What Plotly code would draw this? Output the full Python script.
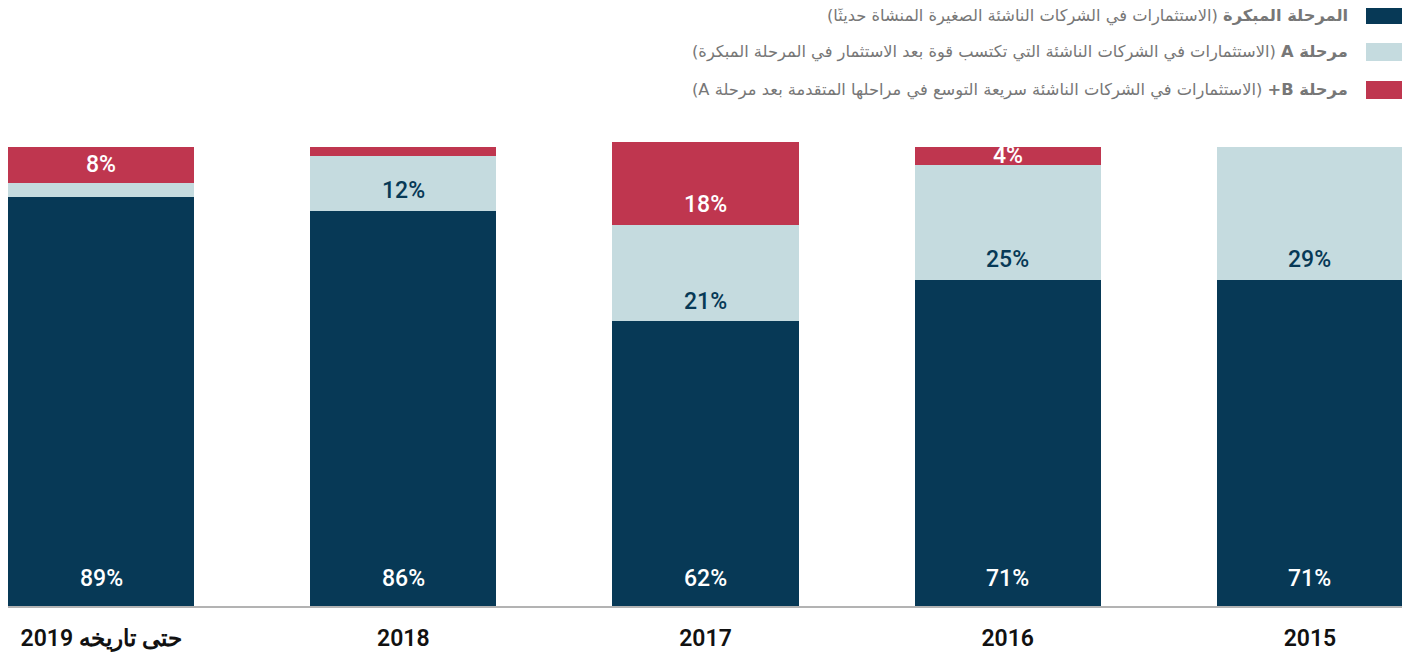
import plotly.graph_objects as go

categories = ["2019 حتى تاريخه", "2018", "2017", "2016", "2015"]
tick_labels = ["حتى تاريخه 2019", "2018", "2017", "2016", "2015"]
early = [89, 86, 62, 71, 71]
series_a = [3, 12, 21, 25, 29]
series_b = [8, 2, 18, 4, 0]

early_labels = ["89%", "86%", "62%", "71%", "71%"]
a_labels = ["", "12%", "21%", "25%", "29%"]
b_labels = ["8%", "", "18%", "4%", ""]

legend_names = [
    "<b>المرحلة المبكرة</b> (الاستثمارات في الشركات الناشئة الصغيرة المنشأة حديثًا)",
    "<b>مرحلة A</b> (الاستثمارات في الشركات الناشئة التي تكتسب قوة بعد الاستثمار في المرحلة المبكرة)",
    "<b>مرحلة B+</b> (الاستثمارات في الشركات الناشئة سريعة التوسع في مراحلها المتقدمة بعد مرحلة A)",
]

C_DARK = "#073956"
C_LIGHT = "#c5dbdf"
C_RED = "#bf364f"
colors = [C_DARK, C_LIGHT, C_RED]

# page body has an 8px margin: figure is offset by it
W, H = 1402, 645
ML, MR, MT, MB = 0, 7, 134, 47
PW = W - ML - MR
PH = H - MT - MB
YMAX = 101
PX_PER_UNIT = PH / YMAX

fig = go.Figure()
layers = [
    (early, early_labels, C_DARK, "white", 28),
    (series_a, a_labels, C_LIGHT, C_DARK, 20),
    (series_b, b_labels, C_RED, "white", 20),
]
bases = [0] * len(categories)
for vals, labels, col, tcol, off in layers:
    fig.add_trace(go.Bar(
        x=categories, y=vals,
        marker=dict(color=col, line=dict(width=0)),
        hoverinfo="skip", showlegend=False,
    ))
    for i, (v, lab) in enumerate(zip(vals, labels)):
        if lab:
            seg_px = v * PX_PER_UNIT
            shift = min(off, seg_px / 2)
            fig.add_annotation(
                x=i, y=bases[i], xref="x", yref="y",
                text=lab, showarrow=False, yanchor="middle", yshift=shift,
                font=dict(family="Roboto", size=23, color=tcol, weight=500),
            )
    bases = [b + v for b, v in zip(bases, vals)]

fig.update_layout(
    barmode="stack",
    bargap=0.384,
    width=W, height=H,
    margin=dict(l=ML, r=MR, t=MT, b=MB, autoexpand=False),
    paper_bgcolor="white", plot_bgcolor="white",
    xaxis=dict(
        type="category", range=[-0.308, 4.308], automargin=False,
        tickvals=categories, ticktext=tick_labels,
        showgrid=False, showline=True, linecolor="#b3b3b3", linewidth=2,
        ticks="", tickfont=dict(family="Roboto", size=23, color="#111", weight=600),
        ticklabelstandoff=10,
    ),
    yaxis=dict(range=[0, YMAX], visible=False, showgrid=False, automargin=False),
)

row_y = [15, 52, 90]
for i, (name, col) in enumerate(zip(legend_names, colors)):
    yc = (606 - row_y[i]) / 464
    h = 9 / 464
    fig.add_shape(type="rect", xref="paper", yref="paper",
                  x0=(1366 - 8) / 1395, x1=1.0, y0=yc - h, y1=yc + h,
                  fillcolor=col, line=dict(width=0))
    fig.add_annotation(
        xref="paper", yref="paper", x=(1350 - 8) / 1395, y=yc,
        xanchor="right", yanchor="middle", showarrow=False,
        text="\u202b" + name + "\u202c",
        font=dict(family="DejaVu Sans", size=16.3, color="#777777"),
    )

fig.write_html("out.html")
